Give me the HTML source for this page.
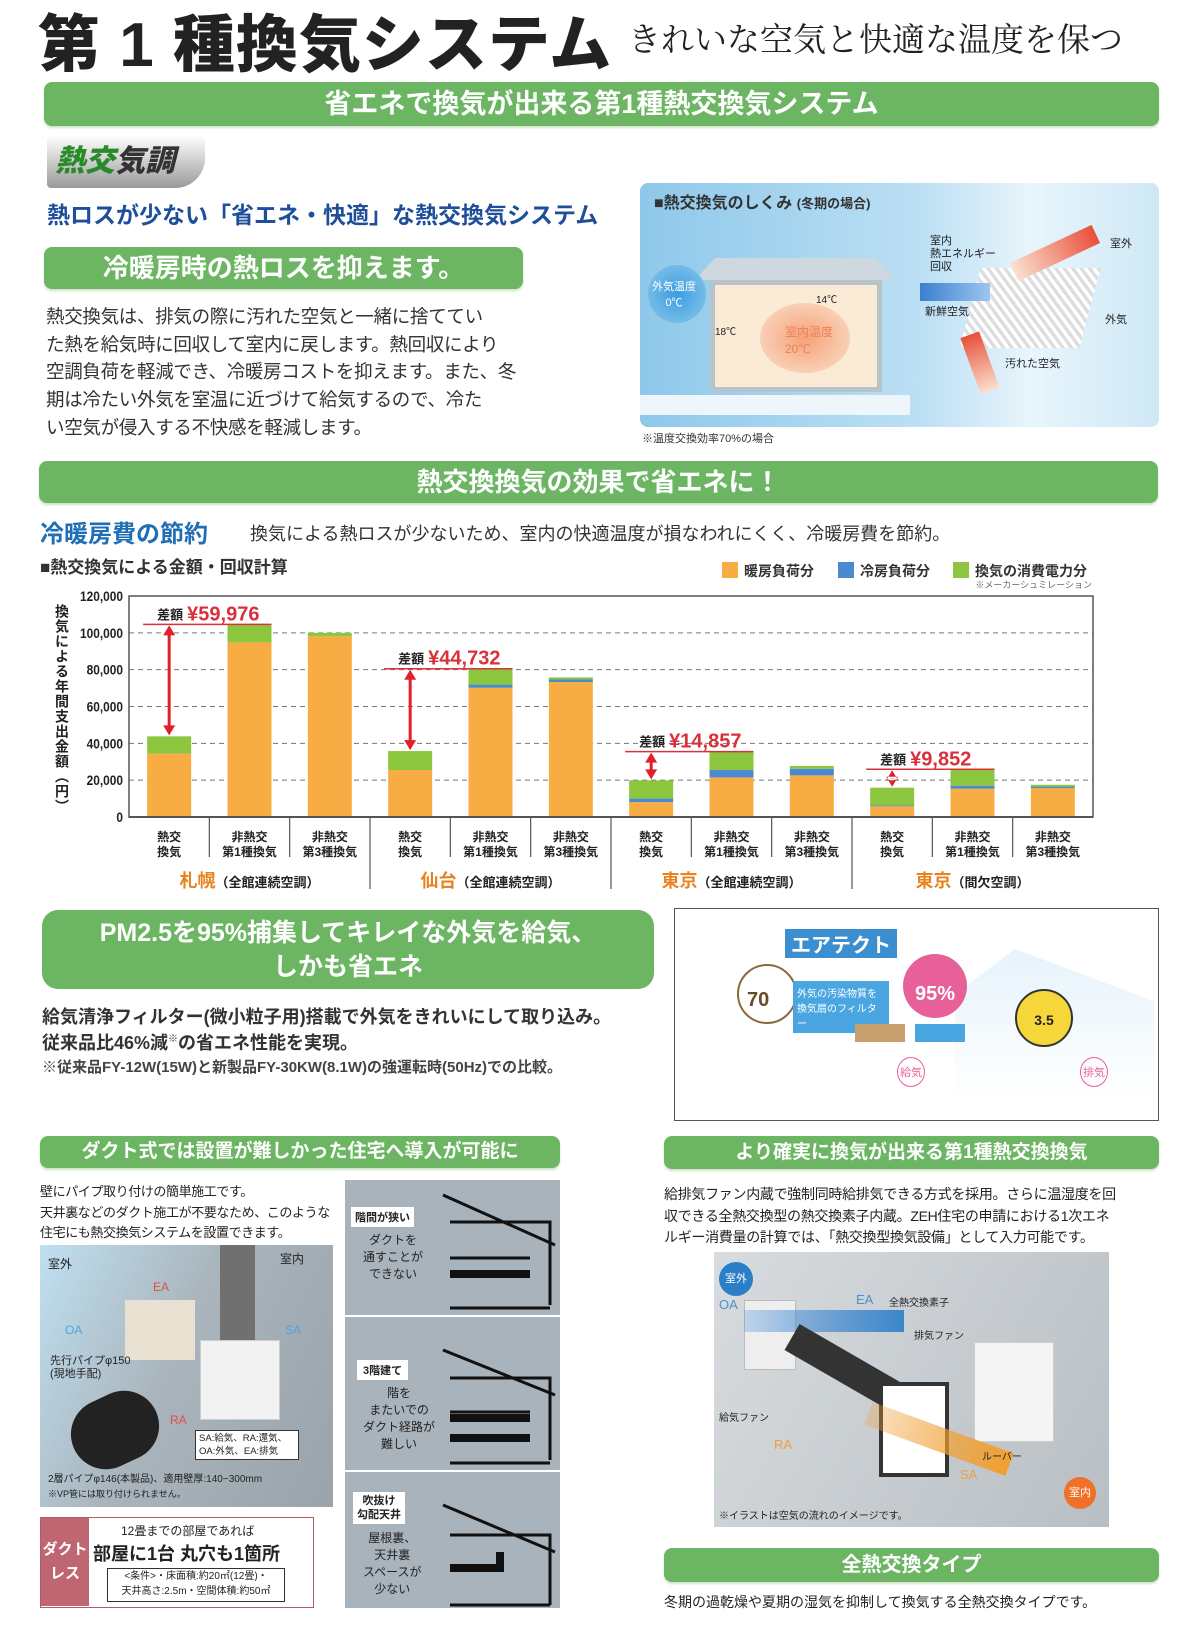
<!DOCTYPE html>
<html><head><meta charset="utf-8">
<style>
*{margin:0;padding:0;box-sizing:border-box}
body{width:1192px;height:1647px;background:#fff;position:relative;overflow:hidden;font-family:"Liberation Sans","Noto Sans CJK JP",sans-serif;color:#222}
.a{position:absolute}
.gb{position:absolute;background:#6cb563;color:#fff;border-radius:8px;text-align:center;font-weight:bold;box-shadow:0 2px 2px #cfe3c9}
.t{position:absolute;white-space:nowrap}
</style></head><body>

<div class="t" style="left:38px;top:-6px;font-size:62px;font-weight:900;letter-spacing:1px">第 1 種換気システム</div>
<div class="t" style="left:628px;top:14px;font-size:33px;font-family:'Noto Serif CJK SC','Noto Sans CJK JP',serif">きれいな空気と快適な温度を保つ</div>

<div class="gb" style="left:44px;top:82px;width:1115px;height:44px;font-size:27px;line-height:44px">省エネで換気が出来る第1種熱交換気システム</div>

<div class="a" style="left:47px;top:136px;width:158px;height:52px;background:linear-gradient(#fff,#999);border-radius:4px 4px 30px 4px">
<div class="t" style="left:8px;top:0;font-size:30px;font-weight:900;font-style:italic;color:#2a8a2a">熱交<span style="color:#333">気調</span></div></div>

<div class="t" style="left:47px;top:196px;font-size:23px;font-weight:bold;color:#1f4e9a">熱ロスが少ない「省エネ・快適」な熱交換気システム</div>

<div class="gb" style="left:44px;top:247px;width:479px;height:42px;font-size:26px;line-height:42px">冷暖房時の熱ロスを抑えます。</div>

<div class="a" style="left:46px;top:303px;white-space:nowrap;font-size:18.5px;line-height:27.7px;color:#333;letter-spacing:-0.3px">熱交換気は、排気の際に汚れた空気と一緒に捨ててい<br>た熱を給気時に回収して室内に戻します。熱回収により<br>空調負荷を軽減でき、冷暖房コストを抑えます。また、冬<br>期は冷たい外気を室温に近づけて給気するので、冷た<br>い空気が侵入する不快感を軽減します。</div>

<div class="a" style="left:640px;top:183px;width:519px;height:244px;background:linear-gradient(90deg,#8ec8ea 0%,#bde0f4 55%,#e8f5fc 75%,#cfe8f6 100%);border-radius:8px;overflow:hidden">
<div class="t" style="left:14px;top:6px;font-size:16px;font-weight:bold;color:#333">■熱交換気のしくみ <span style="font-size:13px">(冬期の場合)</span></div>
<div class="a" style="left:55px;top:75px;width:200px;height:22px;background:#cfd8de;clip-path:polygon(10% 0,90% 0,100% 100%,0 100%)"></div>
<div class="a" style="left:70px;top:97px;width:172px;height:112px;background:#fbead6;border:5px solid #b8c4cc"></div>
<div class="a" style="left:120px;top:120px;width:90px;height:70px;border-radius:50%;background:radial-gradient(#f4a27a,#fbe2cc)"></div>
<div class="t" style="left:145px;top:140px;font-size:12px;color:#f08050">室内温度<br>20℃</div>
<div class="a" style="left:8px;top:82px;width:58px;height:58px;border-radius:50%;background:radial-gradient(#3a9de0,#8ec8ea)"></div>
<div class="t" style="left:12px;top:95px;font-size:11px;color:#fff;text-align:center">外気温度<br>0℃</div>
<div class="t" style="left:75px;top:140px;font-size:10px">18℃</div>
<div class="t" style="left:176px;top:108px;font-size:10px">14℃</div>
<div class="a" style="left:0;top:212px;width:270px;height:20px;background:#eef6fb"></div>
<div class="a" style="left:330px;top:85px;width:120px;height:80px;background:repeating-linear-gradient(45deg,#ddd 0 3px,#fff 3px 6px);transform:skew(-15deg)"></div>
<div class="a" style="left:280px;top:100px;width:70px;height:18px;background:linear-gradient(90deg,#3a7fd0,#9cc6ee)"></div>
<div class="a" style="left:370px;top:60px;width:90px;height:20px;background:linear-gradient(90deg,#fbe0d0,#e8503a);transform:rotate(-25deg)"></div>
<div class="a" style="left:330px;top:150px;width:20px;height:60px;background:linear-gradient(#e8503a,#fbe0d0);transform:rotate(-20deg)"></div>
<div class="t" style="left:290px;top:52px;font-size:11px;line-height:13px">室内<br>熱エネルギー<br>回収</div>
<div class="t" style="left:470px;top:52px;font-size:11px">室外</div>
<div class="t" style="left:285px;top:120px;font-size:11px">新鮮空気</div>
<div class="t" style="left:465px;top:128px;font-size:11px">外気</div>
<div class="t" style="left:365px;top:172px;font-size:11px">汚れた空気</div>
</div>
<div class="t" style="left:642px;top:430px;font-size:11px;color:#333">※温度交換効率70%の場合</div>

<div class="gb" style="left:39px;top:461px;width:1119px;height:42px;font-size:26px;line-height:42px">熱交換換気の効果で省エネに！</div>

<div class="t" style="left:40px;top:514px;font-size:24px;font-weight:bold;color:#1f6fb5">冷暖房費の節約</div>
<div class="t" style="left:250px;top:520px;font-size:18px;color:#333">換気による熱ロスが少ないため、室内の快適温度が損なわれにくく、冷暖房費を節約。</div>
<div class="t" style="left:40px;top:553px;font-size:17px;font-weight:bold;color:#333">■熱交換気による金額・回収計算</div>

<svg class="a" id="chart" style="left:0;top:555px" width="1192" height="345"></svg>

<div class="a" style="left:42px;top:910px;width:612px;height:79px;background:#6cb563;border-radius:16px;color:#fff;text-align:center;font-size:25px;font-weight:bold;line-height:34px;padding-top:6px">PM2.5を95%捕集してキレイな外気を給気、<br>しかも省エネ</div>
<div class="t" style="left:42px;top:1003px;font-size:18px;font-weight:bold;color:#333">給気清浄フィルター(微小粒子用)搭載で外気をきれいにして取り込み。</div>
<div class="t" style="left:42px;top:1029px;font-size:18px;font-weight:bold;color:#333">従来品比46%減<sup style="font-size:10px">※</sup>の省エネ性能を実現。</div>
<div class="t" style="left:42px;top:1056px;font-size:15px;font-weight:bold;color:#444">※従来品FY-12W(15W)と新製品FY-30KW(8.1W)の強運転時(50Hz)での比較。</div>

<div class="a" style="left:674px;top:908px;width:485px;height:213px;border:1.5px solid #555;background:#fff;overflow:hidden">
<div class="a" style="left:280px;top:40px;width:200px;height:150px;background:linear-gradient(#e6f3fb,#fff);clip-path:polygon(30% 0,100% 35%,100% 100%,0 100%,0 30%)"></div>
<div class="t" style="left:110px;top:20px;font-size:20px;font-weight:bold;color:#fff;background:#3b8fd0;padding:0 6px">エアテクト</div>
<div class="a" style="left:62px;top:55px;width:60px;height:60px;border-radius:50%;border:2px solid #8a6a3a;background:#fff"></div>
<div class="t" style="left:72px;top:80px;font-size:20px;font-weight:bold;color:#6b4a2a">70</div>
<div class="a" style="left:118px;top:72px;width:96px;height:52px;background:#4aa6e0;color:#fff;font-size:10px;padding:4px">外気の汚染物質を<br>換気扇のフィルター<br>でキャッチ!!</div>
<div class="a" style="left:228px;top:45px;width:64px;height:64px;border-radius:50%;background:#e8609a;color:#fff;font-size:20px;font-weight:bold;text-align:center;line-height:80px">95%</div>
<div class="a" style="left:340px;top:80px;width:58px;height:58px;border-radius:50%;background:#f5d73a;border:2px solid #333;font-size:14px;font-weight:bold;text-align:center;line-height:58px">3.5</div>
<div class="a" style="left:180px;top:115px;width:50px;height:18px;background:#c8a070"></div>
<div class="a" style="left:240px;top:115px;width:50px;height:18px;background:#4aa6e0"></div>
<div class="t" style="left:222px;top:148px;font-size:11px;color:#e8609a;border:1.5px solid #e8609a;border-radius:50%;padding:6px 2px">給気</div>
<div class="t" style="left:405px;top:148px;font-size:11px;color:#e8609a;border:1.5px solid #e8609a;border-radius:50%;padding:6px 2px">排気</div>
</div>

<div class="gb" style="left:40px;top:1136px;width:520px;height:32px;font-size:19px;line-height:32px">ダクト式では設置が難しかった住宅へ導入が可能に</div>
<div class="gb" style="left:664px;top:1136px;width:495px;height:33px;font-size:19px;line-height:33px">より確実に換気が出来る第1種熱交換換気</div>

<div class="a" style="left:40px;top:1182px;font-size:13px;line-height:20.5px;color:#222;white-space:nowrap;letter-spacing:-0.4px">壁にパイプ取り付けの簡単施工です。<br>天井裏などのダクト施工が不要なため、このような<br>住宅にも熱交換気システムを設置できます。</div>

<div class="a" style="left:40px;top:1245px;width:293px;height:262px;background:linear-gradient(115deg,#bfe0f0 0%,#a9b4bc 45%,#9aa3aa 100%);overflow:hidden">
<div class="a" style="left:180px;top:0;width:35px;height:120px;background:#707070"></div>
<div class="a" style="left:85px;top:55px;width:70px;height:60px;background:#e8e0d0"></div>
<div class="a" style="left:160px;top:95px;width:80px;height:80px;background:#f2f2f2;border:1px solid #ccc"></div>
<div class="a" style="left:30px;top:150px;width:90px;height:70px;border-radius:40px;background:#222;transform:rotate(-25deg)"></div>
<div class="t" style="left:8px;top:10px;font-size:12px">室外</div><div class="t" style="left:240px;top:5px;font-size:12px">室内</div>
<div class="t" style="left:113px;top:35px;font-size:12px;color:#e0503a">EA</div>
<div class="t" style="left:25px;top:78px;font-size:12px;color:#4aa6e0">OA</div>
<div class="t" style="left:245px;top:78px;font-size:12px;color:#4aa6e0">SA</div>
<div class="t" style="left:130px;top:168px;font-size:12px;color:#e0503a">RA</div>
<div class="t" style="left:10px;top:110px;font-size:11px;line-height:13px">先行パイプφ150<br>(現地手配)</div>
<div class="a" style="left:155px;top:185px;width:104px;height:30px;background:#fff;border:1px solid #333;font-size:9.5px;line-height:13px;padding:1px 3px">SA:給気、RA:還気、<br>OA:外気、EA:排気</div>
<div class="t" style="left:8px;top:225px;font-size:10px">2層パイプφ146(本製品)、適用壁厚:140~300mm</div>
<div class="t" style="left:8px;top:242px;font-size:9px">※VP管には取り付けられません。</div>
</div>

<div class="a" style="left:40px;top:1517px;width:274px;height:91px;border:1.5px solid #b55a66;background:#fff">
<div class="a" style="left:0;top:0;width:48px;height:88px;background:#c06672;color:#fff;font-size:15px;font-weight:bold;text-align:center;padding-top:20px;line-height:24px">ダクト<br>レス</div>
<div class="t" style="left:80px;top:4px;font-size:12px">12畳までの部屋であれば</div>
<div class="t" style="left:52px;top:22px;font-size:18px;font-weight:bold">部屋に1台 丸穴も1箇所</div>
<div class="a" style="left:66px;top:50px;width:178px;height:34px;border:1px solid #333;font-size:10px;line-height:15px;text-align:center">&lt;条件&gt;・床面積:約20㎡(12畳)・<br>天井高さ:2.5m・空間体積:約50㎡</div>
</div>

<div class="a" style="left:345px;top:1180px;width:215px;height:428px;background:#a9b3bb">
<div class="a" style="left:0;top:135px;width:215px;height:2px;background:#fff"></div>
<div class="a" style="left:0;top:290px;width:215px;height:2px;background:#fff"></div>
<div class="t" style="left:6px;top:27px;font-size:11px;font-weight:bold;background:#fff;padding:2px 4px">階間が狭い</div>
<div class="t" style="left:18px;top:52px;font-size:12px;line-height:17px;text-align:center">ダクトを<br>通すことが<br>できない</div>
<div class="t" style="left:12px;top:180px;font-size:11px;font-weight:bold;background:#fff;padding:2px 6px">3階建て</div>
<div class="t" style="left:18px;top:205px;font-size:12px;line-height:17px;text-align:center">階を<br>またいでの<br>ダクト経路が<br>難しい</div>
<div class="t" style="left:8px;top:312px;font-size:11px;font-weight:bold;background:#fff;padding:2px 4px;text-align:center;line-height:14px">吹抜け<br>勾配天井</div>
<div class="t" style="left:18px;top:350px;font-size:12px;line-height:17px;text-align:center">屋根裏、<br>天井裏<br>スペースが<br>少ない</div>
<svg class="a" style="left:95px;top:0" width="120" height="428" fill="none" stroke="#111" stroke-width="3">
<path d="M3 15 L115 65 M10 42 L110 42 L110 125 M10 128 L110 128 M10 78 L90 78"/>
<path d="M3 170 L115 215 M10 198 L110 198 L110 280 M10 283 L110 283 M10 232 L90 232"/>
<path stroke-width="8" d="M10 94 L90 94 M10 238 L90 238 M10 258 L90 258"/>
<path d="M3 325 L115 372 M10 355 L110 355 L110 425 M10 425 L110 425"/>
<path stroke-width="8" d="M10 388 L60 388 L60 372"/>
</svg>
</div>

<div class="a" style="left:664px;top:1184px;font-size:14px;line-height:21.5px;color:#222;white-space:nowrap;letter-spacing:-0.3px">給排気ファン内蔵で強制同時給排気できる方式を採用。さらに温湿度を回<br>収できる全熱交換型の熱交換素子内蔵。ZEH住宅の申請における1次エネ<br>ルギー消費量の計算では、「熱交換型換気設備」として入力可能です。</div>

<div class="a" style="left:714px;top:1252px;width:395px;height:275px;background:linear-gradient(120deg,#d8dcdf,#b8bec3);overflow:hidden">
<div class="a" style="left:5px;top:10px;width:34px;height:34px;border-radius:50%;background:#2a7fc8;color:#fff;font-size:11px;text-align:center;line-height:34px">室外</div>
<div class="a" style="left:30px;top:48px;width:52px;height:70px;background:#eee;border:1px solid #bbb"></div>
<div class="a" style="left:30px;top:58px;width:160px;height:22px;background:linear-gradient(90deg,rgba(80,150,220,.3),#3a86cc)"></div>
<div class="a" style="left:70px;top:100px;width:120px;height:30px;background:#333;transform:rotate(30deg)"></div>
<div class="a" style="left:165px;top:130px;width:70px;height:95px;background:#fff;border:4px solid #333"></div>
<div class="a" style="left:260px;top:90px;width:80px;height:100px;background:#f4f4f4;border:1px solid #ccc"></div>
<div class="a" style="left:150px;top:175px;width:150px;height:24px;background:linear-gradient(90deg,rgba(240,160,60,.3),#f0a030);transform:rotate(20deg)"></div>
<div class="t" style="left:5px;top:45px;font-size:13px;color:#4a90d0">OA</div>
<div class="t" style="left:142px;top:40px;font-size:13px;color:#4a90d0">EA</div>
<div class="t" style="left:175px;top:42px;font-size:10px">全熱交換素子</div>
<div class="t" style="left:200px;top:75px;font-size:10px">排気ファン</div>
<div class="t" style="left:5px;top:157px;font-size:10px">給気ファン</div>
<div class="t" style="left:60px;top:185px;font-size:13px;color:#f0a040">RA</div>
<div class="t" style="left:268px;top:196px;font-size:10px">ルーバー</div>
<div class="t" style="left:246px;top:215px;font-size:13px;color:#f0a040">SA</div>
<div class="a" style="left:350px;top:225px;width:32px;height:32px;border-radius:50%;background:#f07028;color:#fff;font-size:11px;text-align:center;line-height:32px">室内</div>
<div class="t" style="left:5px;top:255px;font-size:10px">※イラストは空気の流れのイメージです。</div>
</div>

<div class="gb" style="left:664px;top:1548px;width:495px;height:34px;font-size:20px;line-height:34px">全熱交換タイプ</div>
<div class="t" style="left:664px;top:1592px;font-size:14px;color:#222">冬期の過乾燥や夏期の湿気を抑制して換気する全熱交換タイプです。</div>

<script>
const catLine1 = ["熱交","非熱交","非熱交","熱交","非熱交","非熱交","熱交","非熱交","非熱交","熱交","非熱交","非熱交"];
const catLine2 = ["換気","第1種換気","第3種換気","換気","第1種換気","第3種換気","換気","第1種換気","第3種換気","換気","第1種換気","第3種換気"];
const heating = [34400,94800,98100,25500,70200,73300,8100,21500,22600,5800,15400,15700];
const cooling = [0,0,0,0,1700,1400,1900,4000,3600,500,1600,800];
const ventPower = [9400,9800,1900,10300,8600,1100,9900,10000,1500,9600,8900,1000];
const cities = ["札幌","仙台","東京","東京"];
const cityNotes = ["（全館連続空調）","（全館連続空調）","（全館連続空調）","（間欠空調）"];
const diffLabels = ["¥59,976","¥44,732","¥14,857","¥9,852"];
const yTicks = [0,20000,40000,60000,80000,100000,120000];
const yTickLabels = ["0","20,000","40,000","60,000","80,000","100,000","120,000"];

const NS="http://www.w3.org/2000/svg";
const svg=document.getElementById('chart');
const OY=555;
const L=129,R=1093,T=596-OY,B=817-OY;
const yMax=120000;
const y=v=>B-(v/yMax)*(B-T);
const cw=(R-L)/catLine1.length;
const xc=i=>L+cw*(i+0.5);
const bw=44;
function mk(tag,attrs,txt){const e=document.createElementNS(NS,tag);for(const k in attrs)e.setAttribute(k,attrs[k]);if(txt!==undefined)e.textContent=txt;svg.appendChild(e);return e;}

const legC=["#f7ad43","#4a8ad0","#8cc63f"],legT=["暖房負荷分","冷房負荷分","換気の消費電力分"],legX=[722,838,953];
for(let i=0;i<3;i++){
 const r=mk('rect',{x:legX[i],y:7,width:16,height:16,fill:legC[i]});
 
 
 const t=mk('text',{x:legX[i]+22,y:21,'font-size':14,'font-weight':'bold',fill:'#333'},legT[i]);
 
 
}
const n=mk('text',{x:1092,y:33,'font-size':9,fill:'#666','text-anchor':'end'},"※メーカーシュミレーション");



yTicks.forEach((v,i)=>{
 if(v>0&&v<yMax){const g=mk('line',{x1:L,x2:R,y1:y(v),y2:y(v),stroke:'#777','stroke-dasharray':'5,4','stroke-width':1});
 
 }
 const t=mk('text',{x:(L-6)/0.85,y:y(v)+5,'font-size':14,'text-anchor':'end',fill:'#222','font-weight':'bold',transform:`scale(0.85,1)`},yTickLabels[i]);
 
 
});
const fr=mk('rect',{x:L,y:T,width:R-L,height:B-T,fill:'none',stroke:'#555','stroke-width':1.5});



const yt=mk('text',{x:62,y:T+8,'font-size':14,'font-weight':'bold',fill:'#222','writing-mode':'tb','letter-spacing':'1'},"換気による年間支出金額（円）");



for(let i=0;i<heating.length;i++){
 const x=xc(i)-bw/2;
 const h=heating[i],c=h+cooling[i],v=c+ventPower[i];
 const b1=mk('rect',{x:x,y:y(h),width:bw,height:y(0)-y(h),fill:'#f7ad43'});
 
 
 const b2=mk('rect',{x:x,y:y(c),width:bw,height:y(h)-y(c),fill:'#4a8ad0'});
 
 
 const b3=mk('rect',{x:x,y:y(v),width:bw,height:y(c)-y(v),fill:'#8cc63f'});
 
 
 const t1=mk('text',{x:xc(i),y:B+24,'font-size':12,'font-weight':'bold','text-anchor':'middle',fill:'#222'},catLine1[i]);
 
 
 const t2=mk('text',{x:xc(i),y:B+39,'font-size':12,'font-weight':'bold','text-anchor':'middle',fill:'#222'},catLine2[i]);
 
 
 if(i>0){const s=mk('line',{x1:L+cw*i,x2:L+cw*i,y1:B,y2:B+(i%3==0?72:40),stroke:'#555','stroke-width':1.2});
 
 }
}
const ax=mk('line',{x1:L,x2:R,y1:B,y2:B,stroke:'#555','stroke-width':2});



for(let g=0;g<4;g++){
 const cx=L+cw*3*g+cw*1.5;
 const ct=mk('text',{x:cx,y:B+70,'font-size':18,'font-weight':'bold','text-anchor':'middle',fill:'#e8821e'});
 
 
 const s1=document.createElementNS(NS,'tspan');s1.textContent=cities[g];ct.appendChild(s1);
 const s2=document.createElementNS(NS,'tspan');s2.textContent=cityNotes[g];s2.setAttribute('fill','#222');s2.setAttribute('font-size','13');ct.appendChild(s2);
 const i0=g*3,i1=g*3+1;
 const top0=heating[i0]+cooling[i0]+ventPower[i0];
 const top1=heating[i1]+cooling[i1]+ventPower[i1];
 const ax0=xc(i0);
 const ln=mk('line',{x1:ax0-bw/2-4,x2:xc(i1)+bw/2,y1:y(top1),y2:y(top1),stroke:'#d9303a','stroke-width':1.5});
 
 
 const ar=mk('line',{x1:ax0,x2:ax0,y1:y(top1)+9,y2:y(top0)-9,stroke:'#e0202a','stroke-width':3});
 
 
 const h1=mk('path',{d:`M${ax0-6} ${y(top1)+11} L${ax0} ${y(top1)+1} L${ax0+6} ${y(top1)+11}Z M${ax0-6} ${y(top0)-11} L${ax0} ${y(top0)-1} L${ax0+6} ${y(top0)-11}Z`,fill:'#e0202a'});
 
 
 const dl=mk('text',{x:ax0-12,y:y(top1)-5,'font-size':13,'font-weight':'bold',fill:'#222'},"差額");
 
 
 const dv=mk('text',{x:ax0+18,y:y(top1)-4,'font-size':20,'font-weight':'bold',fill:'#d9303a'},diffLabels[g]);
 
 
}
</script>
</body></html>
